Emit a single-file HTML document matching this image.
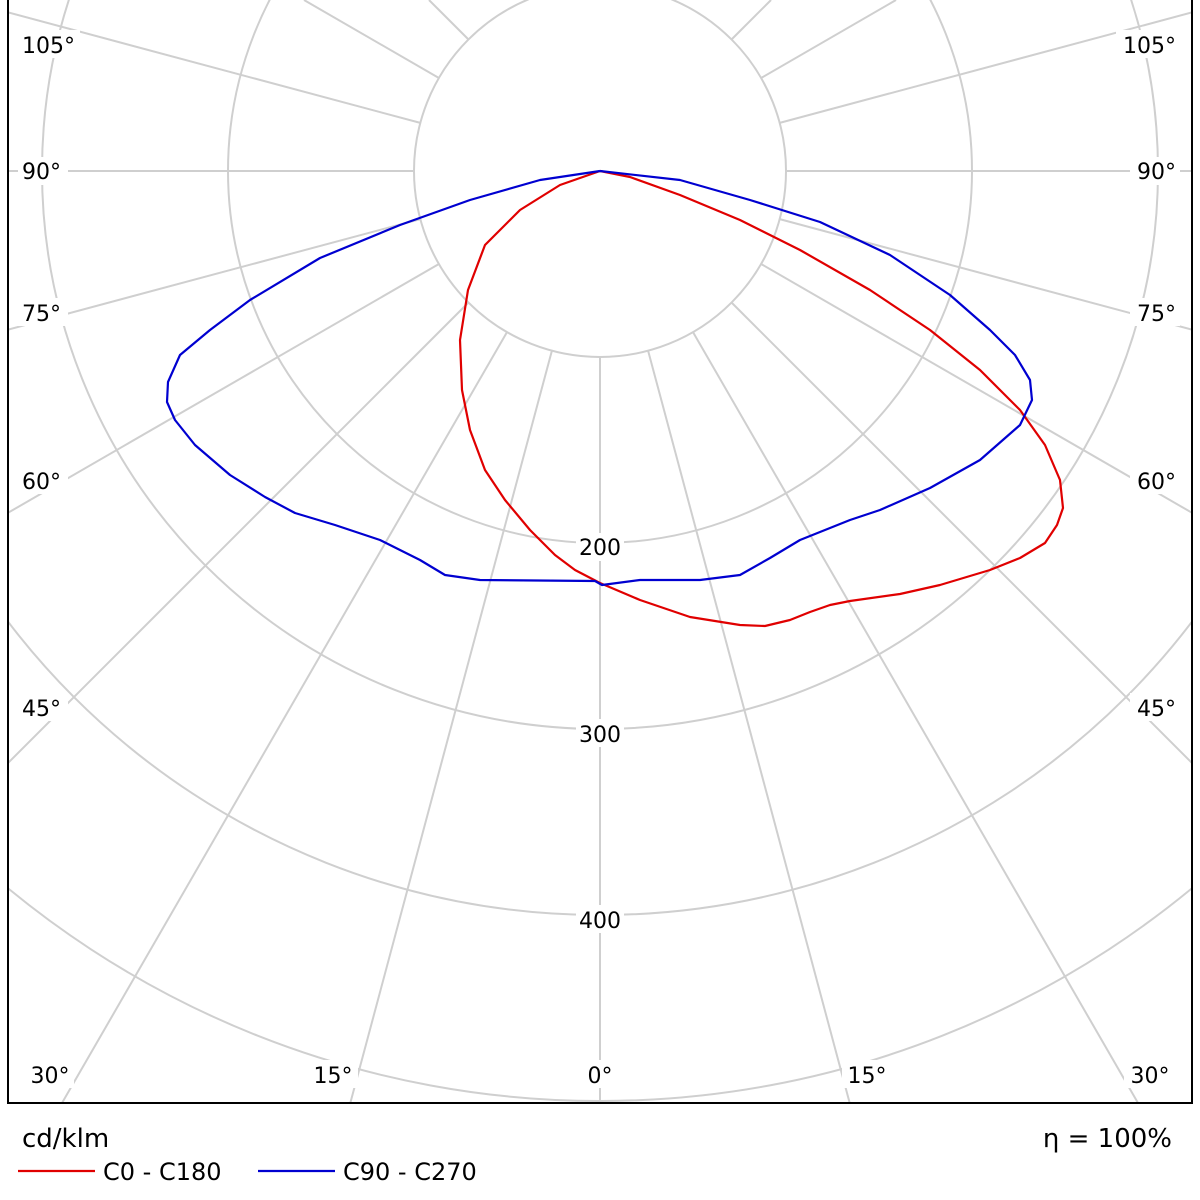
<!DOCTYPE html>
<html><head><meta charset="utf-8"><style>
html,body{margin:0;padding:0;background:#fff;width:1200px;height:1200px;overflow:hidden;}
svg{display:block;}
text{font-family:"DejaVu Sans","Liberation Sans",sans-serif;}
</style></head><body>
<svg width="1200" height="1200" viewBox="0 0 1200 1200" xmlns="http://www.w3.org/2000/svg" style="overflow:hidden">
<svg x="8" y="0" width="1184" height="1103" viewBox="8 0 1184 1103" overflow="hidden">
<g stroke="#cfcfcf" stroke-width="2" fill="none">
<circle cx="600" cy="171" r="186"/>
<circle cx="600" cy="171" r="372"/>
<circle cx="600" cy="171" r="558"/>
<circle cx="600" cy="171" r="744"/>
<circle cx="600" cy="171" r="930"/>
<circle cx="600" cy="171" r="1116"/>
<line x1="600" y1="357" x2="600" y2="1103"/>
<line x1="648.1" y1="350.7" x2="849.7" y2="1103"/><line x1="551.9" y1="350.7" x2="350.3" y2="1103"/>
<line x1="693" y1="332.1" x2="1138" y2="1103"/><line x1="507" y1="332.1" x2="62" y2="1103"/>
<line x1="731.5" y1="302.5" x2="1192" y2="763"/><line x1="468.5" y1="302.5" x2="8" y2="763"/>
<line x1="761.1" y1="264" x2="1192" y2="512.8"/><line x1="438.9" y1="264" x2="8" y2="512.8"/>
<line x1="779.7" y1="219.1" x2="1192" y2="329.6"/><line x1="420.3" y1="219.1" x2="8" y2="329.6"/>
<line x1="786" y1="171" x2="1192" y2="171"/><line x1="414" y1="171" x2="8" y2="171"/>
<line x1="779.7" y1="122.9" x2="1192" y2="12.4"/><line x1="420.3" y1="122.9" x2="8" y2="12.4"/>
<line x1="761.1" y1="78" x2="896" y2="0"/><line x1="438.9" y1="78" x2="304" y2="0"/>
<line x1="731.5" y1="39.5" x2="771" y2="0"/><line x1="468.5" y1="39.5" x2="429" y2="0"/>
</g>
</svg>
<path d="M8,0 V1103 H1192 V0" fill="none" stroke="#000" stroke-width="2"/>
<g font-size="22" fill="#000">
<rect x="576" y="533" width="48" height="28" fill="#fff"/><text x="600" y="555" text-anchor="middle">200</text>
<rect x="576" y="719" width="48" height="28" fill="#fff"/><text x="600" y="742" text-anchor="middle">300</text>
<rect x="576" y="905" width="48" height="28" fill="#fff"/><text x="600" y="928" text-anchor="middle">400</text>
<rect x="18" y="30" width="62" height="28" fill="#fff"/><text x="22" y="53">105°</text>
<rect x="1116" y="30" width="62" height="28" fill="#fff"/><text x="1176" y="53" text-anchor="end">105°</text>
<rect x="18" y="157" width="50" height="28" fill="#fff"/><text x="22" y="179">90°</text>
<rect x="1130" y="157" width="50" height="28" fill="#fff"/><text x="1176" y="179" text-anchor="end">90°</text>
<rect x="18" y="298" width="50" height="28" fill="#fff"/><text x="22" y="321">75°</text>
<rect x="1130" y="298" width="50" height="28" fill="#fff"/><text x="1176" y="321" text-anchor="end">75°</text>
<rect x="18" y="466" width="50" height="28" fill="#fff"/><text x="22" y="489">60°</text>
<rect x="1130" y="466" width="50" height="28" fill="#fff"/><text x="1176" y="489" text-anchor="end">60°</text>
<rect x="18" y="693" width="50" height="28" fill="#fff"/><text x="22" y="716">45°</text>
<rect x="1130" y="693" width="50" height="28" fill="#fff"/><text x="1176" y="716" text-anchor="end">45°</text>
<rect x="24" y="1060" width="50" height="28" fill="#fff"/><text x="50" y="1083" text-anchor="middle">30°</text>
<rect x="1124" y="1060" width="50" height="28" fill="#fff"/><text x="1150" y="1083" text-anchor="middle">30°</text>
<rect x="308" y="1060" width="50" height="28" fill="#fff"/><text x="333" y="1083" text-anchor="middle">15°</text>
<rect x="842" y="1060" width="50" height="28" fill="#fff"/><text x="867" y="1083" text-anchor="middle">15°</text>
<rect x="580" y="1060" width="40" height="28" fill="#fff"/><text x="600" y="1083" text-anchor="middle">0°</text>
</g>
<polyline fill="none" stroke="#e00000" stroke-width="2.2" stroke-linejoin="round" points="600,171 560,185 520,210 485,245 468,290 460,340 462,390 470,430 485,470 505,500 530,530 555,555 575,570 600,583 640,600 690,617 740,625 765,626 790,620 810,612 830,605 850,601 900,594 940,585 990,570 1020,558 1045,543 1057,525 1063,508 1060,480 1045,445 1020,410 980,370 930,330 870,290 800,250 740,220 680,195 630,177 600,171"/>
<polyline fill="none" stroke="#0000d0" stroke-width="2.2" stroke-linejoin="round" points="600,171 540,180 470,200 400,225 320,258 250,300 210,330 180,355 168,382 167,402 175,420 195,445 230,475 265,497 295,513 335,525 380,540 420,560 445,575 480,580 595,581 602,585 640,580 700,580 740,575 770,558 800,540 850,520 880,510 930,488 980,460 1020,425 1032,400 1030,380 1015,355 990,330 950,295 890,255 820,222 750,200 680,180 600,171"/>
<text x="22" y="1147" font-size="26">cd/klm</text>
<text x="1172" y="1147" font-size="26" text-anchor="end">η = 100%</text>
<line x1="18" y1="1171" x2="95" y2="1171" stroke="#e00000" stroke-width="2.2"/>
<text x="103" y="1180" font-size="24">C0 - C180</text>
<line x1="258" y1="1171" x2="335" y2="1171" stroke="#0000d0" stroke-width="2.2"/>
<text x="343" y="1180" font-size="24">C90 - C270</text>
</svg>
</body></html>
